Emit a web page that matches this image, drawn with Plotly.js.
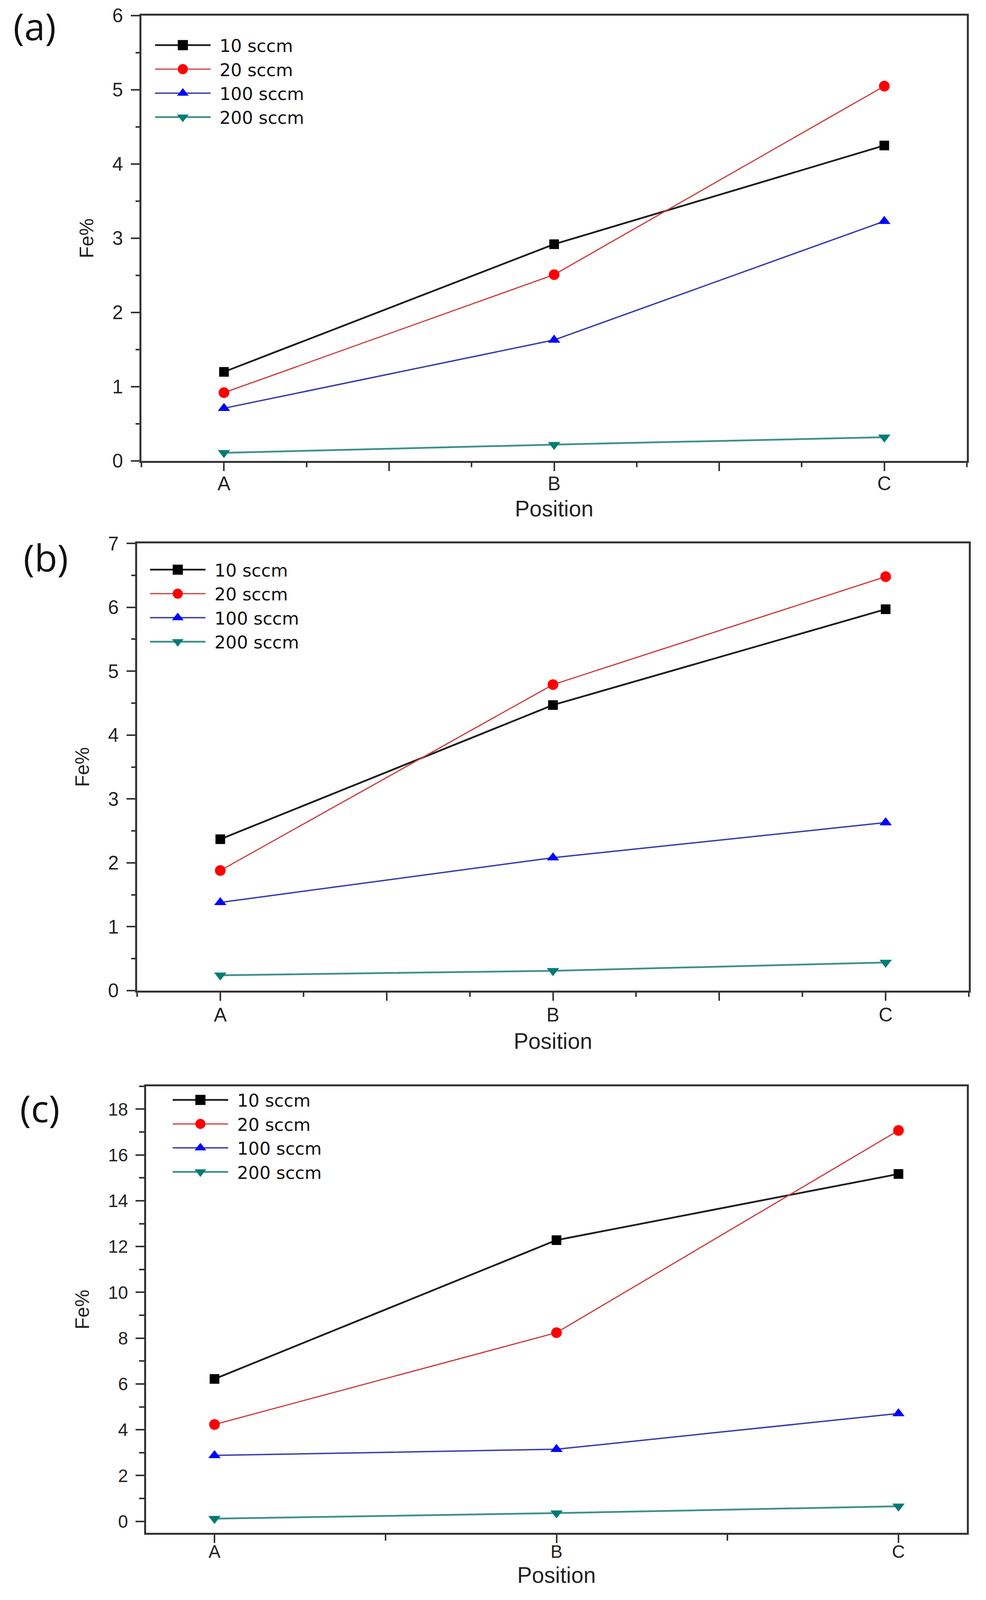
<!DOCTYPE html>
<html>
<head>
<meta charset="utf-8">
<script src="https://cdn.plot.ly/plotly-3.0.1.min.js"></script>
<style>
html,body{margin:0;padding:0;background:#ffffff;overflow:hidden;}
#chart{width:2524px;}
/* longer legend sample lines with a larger centred marker, as in the reference */
#chart .legendlines path{d:path('M5,0h142');}
#chart .legendpoints path{transform:translate(76px,0px) scale(1.62);}
</style>
</head>
<body>
<div id="chart"></div>
<script>
// ---------- data ----------
const positions = ['A', 'B', 'C'];
const seriesNames = ['10 sccm', '20 sccm', '100 sccm', '200 sccm'];
const panelLabels = ['(a)', '(b)', '(c)'];
const xAxisTitle = 'Position';
const yAxisTitle = 'Fe%';

const panelA_10  = [1.20, 2.92, 4.25];
const panelA_20  = [0.92, 2.51, 5.05];
const panelA_100 = [0.71, 1.63, 3.23];
const panelA_200 = [0.11, 0.22, 0.32];

const panelB_10  = [2.37, 4.47, 5.97];
const panelB_20  = [1.88, 4.79, 6.48];
const panelB_100 = [1.38, 2.08, 2.63];
const panelB_200 = [0.24, 0.31, 0.44];

const panelC_10  = [6.22, 12.28, 15.17];
const panelC_20  = [4.23, 8.24, 17.07];
const panelC_100 = [2.88, 3.15, 4.71];
const panelC_200 = [0.12, 0.36, 0.66];

const panelData = [
  [panelA_10, panelA_20, panelA_100, panelA_200],
  [panelB_10, panelB_20, panelB_100, panelB_200],
  [panelC_10, panelC_20, panelC_100, panelC_200]
];

// ---------- sizing (reference frame is 2524 x 5335) ----------
const W = 2524, REF_H = 5335;
const H = Math.min(REF_H, window.innerHeight || REF_H);
const sy = H / REF_H;              // vertical scale of the visible page
const fs = 0.5 + 0.5 * sy;          // font / marker scale
document.getElementById('chart').style.height = H + 'px';

const styles = [
  {line: '#1c1c1c', lw: 4.5, marker: '#000000', symbol: 'square', size: 28},
  {line: '#cc3a3a', lw: 3,   marker: '#ff0000', symbol: 'circle', size: 31},
  {line: '#3a3aa8', lw: 3.5, marker: '#0000ff', symbol: 'triangle-up', size: 31},
  {line: '#3d8f8b', lw: 4.5, marker: '#007b77', symbol: 'triangle-down', size: 31}
];

// panel boxes in reference pixels: [left, top, right, bottom]
const boxes = [
  [362, 52, 2475, 1537],
  [351, 1812, 2480, 3303],
  [374, 3622, 2475, 5111]
];
const xRanges = [[-0.25, 2.25], [-0.25, 2.25], [-0.2, 2.2]];
const yRanges = [[0, 6], [0, 7], [-0.5, 19]];
const yDticks = [1, 1, 2];
const yMinorDticks = [0.5, 0.5, 1];
const legendPos = [[392, 104], [379, 1853], [437, 3621]];
const labelPos = [[89, 86], [118, 1858], [102, 3694]];
const tickFont = [56, 56, 52];
const xLabelShift = [-10, -6, -17];
const xTitleStandoff = [20, 23, 17];
const legendFont = Math.min(54, (80 * sy - 3) / 1.3);

const xIdx = positions.map((_, i) => i);
const py = y => 1 - y / REF_H;

const traces = [];
panelData.forEach((series, p) => {
  const sfx = p === 0 ? '' : String(p + 1);
  series.forEach((vals, i) => {
    const s = styles[i];
    traces.push({
      type: 'scatter',
      mode: 'lines+markers',
      name: seriesNames[i],
      x: xIdx,
      y: vals,
      xaxis: 'x' + sfx,
      yaxis: 'y' + sfx,
      legend: 'legend' + sfx,
      legendgroup: 'p' + p + 's' + i,
      line: {color: s.line, width: s.lw},
      marker: {color: s.marker, symbol: s.symbol, size: s.size * fs,
               line: {color: s.marker, width: 0}},
      cliponaxis: false
    });
  });
});

const axisCommon = {
  showline: true, linecolor: '#333333', linewidth: 5, mirror: true,
  ticks: 'outside', tickcolor: '#333333', tickwidth: 4,
  showgrid: false, zeroline: false, fixedrange: true
};

const layout = {
  width: W, height: H,
  margin: {l: 0, r: 0, t: 0, b: 0},
  paper_bgcolor: '#ffffff', plot_bgcolor: '#ffffff',
  font: {family: 'Liberation Sans, Arial, sans-serif', color: '#222222'},
  showlegend: true,
  annotations: []
};

boxes.forEach((b, p) => {
  const sfx = p === 0 ? '' : String(p + 1);
  const xd = [b[0] / W, b[2] / W];
  const yd = [py(b[3]), py(b[1])];
  let xTickVals, xTickText, xMinor;
  if (p < 2) {
    xTickVals = [0, 0.5, 1, 1.5, 2];
    xTickText = [positions[0], '', positions[1], '', positions[2]];
    xMinor = {tickmode: 'array', tickvals: [-0.25, 0.25, 0.75, 1.25, 1.75, 2.25],
              ticklen: 14 * sy, tickwidth: 4, tickcolor: '#333333', ticks: 'outside'};
  } else {
    xTickVals = [0, 1, 2];
    xTickText = positions.slice();
    xMinor = {tickmode: 'array', tickvals: [0.5, 1.5],
              ticklen: 19 * sy, tickwidth: 4, tickcolor: '#333333', ticks: 'outside'};
  }
  layout['xaxis' + sfx] = Object.assign({}, axisCommon, {
    domain: xd, anchor: 'y' + sfx, range: xRanges[p],
    tickmode: 'array', tickvals: xTickVals, ticktext: xTickText,
    ticklen: 27 * sy,
    ticklabelstandoff: xLabelShift[p],
    tickfont: {size: tickFont[p] * fs, color: '#222222'},
    minor: xMinor,
    title: {text: xAxisTitle, font: {size: 64 * fs, color: '#222222'}, standoff: xTitleStandoff[p]}
  });
  layout['yaxis' + sfx] = Object.assign({}, axisCommon, {
    domain: yd, anchor: 'x' + sfx, range: yRanges[p],
    tickmode: 'linear', tick0: 0, dtick: yDticks[p],
    ticklen: 22,
    ticklabelstandoff: 10,
    tickfont: {size: tickFont[p] * fs, color: '#222222'},
    minor: {tickmode: 'linear', tick0: 0, dtick: yMinorDticks[p], ticklen: p < 2 ? 10 : 13,
            tickwidth: 4, tickcolor: '#333333', ticks: 'outside'},
    title: {text: yAxisTitle, font: {size: 56 * fs, color: '#222222'}, standoff: 34}
  });
  layout['legend' + sfx] = {
    x: legendPos[p][0] / W, y: py(legendPos[p][1]),
    xanchor: 'left', yanchor: 'top',
    bgcolor: 'rgba(0,0,0,0)', borderwidth: 0,
    font: {family: 'DejaVu Sans, sans-serif', size: legendFont, color: '#111111'},
    itemwidth: 160, traceorder: 'grouped', tracegroupgap: 0
  };
  layout.annotations.push({
    text: panelLabels[p], xref: 'paper', yref: 'paper',
    x: labelPos[p][0] / W, y: py(labelPos[p][1]),
    xanchor: 'center', yanchor: 'middle', showarrow: false,
    font: {family: 'Open Sans, sans-serif', size: 108 * fs, color: '#111111'}
  });
});

Plotly.newPlot('chart', traces, layout, {staticPlot: true, displayModeBar: false});
</script>
</body>
</html>
